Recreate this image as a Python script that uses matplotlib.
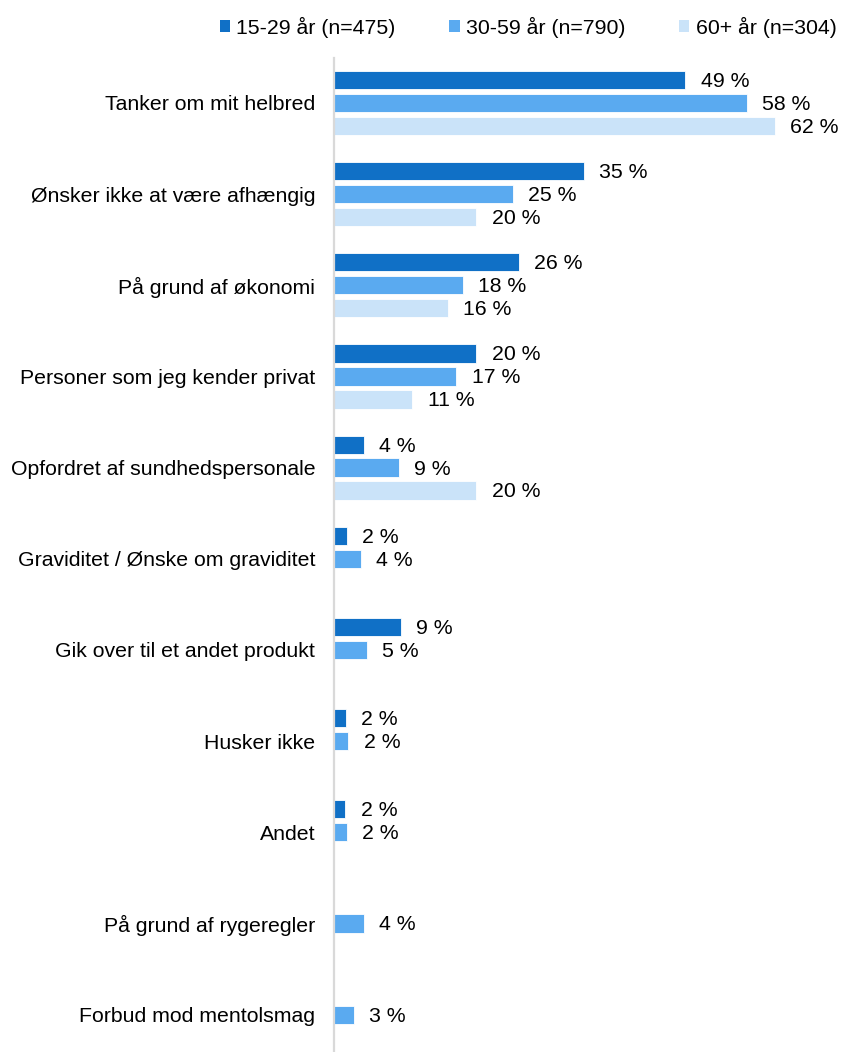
import numpy as np
import matplotlib
matplotlib.use("Agg")
import matplotlib.pyplot as plt
from matplotlib.patches import Patch

plt.rcParams['font.family'] = ['Liberation Sans', 'DejaVu Sans']

categories = [
    "Tanker om mit helbred",
    "Ønsker ikke at være afhængig",
    "På grund af økonomi",
    "Personer som jeg kender privat",
    "Opfordret af sundhedspersonale",
    "Graviditet / Ønske om graviditet",
    "Gik over til et andet produkt",
    "Husker ikke",
    "Andet",
    "På grund af rygeregler",
    "Forbud mod mentolsmag",
]
series_names = ["15-29 år (n=475)", "30-59 år (n=790)", "60+ år (n=304)"]

# bar lengths and printed labels
vals_15_29 = [49.4, 35.1, 26.0, 20.0, 4.2, 1.8, 9.4, 1.7, 1.6, np.nan, np.nan]
vals_30_59 = [58.0, 25.1, 18.1, 17.2, 9.1, 3.8, 4.6, 2.0, 1.8, 4.2, 2.8]
vals_60 = [62.0, 20.0, 16.0, 11.0, 20.0, np.nan, np.nan, np.nan, np.nan, np.nan, np.nan]
labels_15_29 = ["49 %", "35 %", "26 %", "20 %", "4 %", "2 %", "9 %", "2 %", "2 %", "", ""]
labels_30_59 = ["58 %", "25 %", "18 %", "17 %", "9 %", "4 %", "5 %", "2 %", "2 %", "4 %", "3 %"]
labels_60 = ["62 %", "20 %", "16 %", "11 %", "20 %", "", "", "", "", "", ""]

colors = ["#1070C6", "#5AAAF0", "#CAE3F9"]

W, H = 849, 1052
fig = plt.figure(figsize=(W / 100, H / 100), dpi=100)
ax_left, ax_top, ax_bottom, ax_right = 334, 58, 1052, 832
ax = fig.add_axes([ax_left / W, 1 - ax_bottom / H, (ax_right - ax_left) / W, (ax_bottom - ax_top) / H])

y = np.arange(len(categories))
offsets = [-0.252, 0.0, 0.252]
bh = 0.2
fs = 15.3

all_vals = [vals_15_29, vals_30_59, vals_60]
all_labels = [labels_15_29, labels_30_59, labels_60]
for k in range(3):
    v = np.array(all_vals[k], dtype=float)
    mask = ~np.isnan(v)
    ax.barh(y[mask] + offsets[k], v[mask], height=bh, color=colors[k],
            edgecolor="white", linewidth=0.6)
    for i in np.where(mask)[0]:
        ax.annotate(all_labels[k][i], xy=(v[i], y[i] + offsets[k]),
                    xytext=(11.0, -1), textcoords="offset points",
                    ha="left", va="center", fontsize=fs, color="#000000")

ax.set_xlim(0, 70)
ax.set_ylim(10.41, -0.493)
ax.set_yticks(y)
ax.set_yticklabels(categories, fontsize=fs, color="#000000")
ax.tick_params(axis="y", length=0, pad=13.5)
ax.set_xticks([])
for s in ["top", "right", "bottom"]:
    ax.spines[s].set_visible(False)
ax.spines["left"].set_color("#D9D9D9")
ax.spines["left"].set_linewidth(1.6)

handles = [Patch(facecolor=c, edgecolor="none") for c in colors]
fig.legend(handles, series_names, loc="center", ncol=3,
           bbox_to_anchor=(528 / W, 1 - 27 / H), frameon=False,
           fontsize=fs, handlelength=0.5, handleheight=0.5,
           handletextpad=0.3, columnspacing=2.5, borderaxespad=0)

fig.savefig("out.png", dpi=100)
